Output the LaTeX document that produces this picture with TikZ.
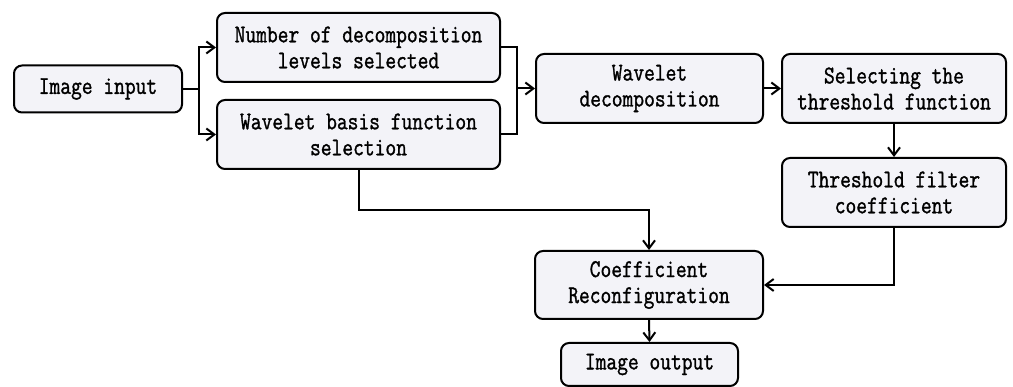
\documentclass[tikz,border=0pt]{standalone}
\usepackage{fontspec}
\usetikzlibrary{arrows.meta}
\newfontfamily\dfont{Latin Modern Mono}[FakeStretch=0.82,FakeBold=1.2]
\definecolor{boxfill}{RGB}{243,243,248}
\tikzset{
  box/.style={draw, line width=2pt, rounded corners=8pt, fill=boxfill,
    align=center, inner sep=0pt,
    font=\dfont\fontsize{25.5}{26}\selectfont},
  conn/.style={line width=2pt},
  arr/.style={conn, -{Straight Barb[length=8pt,width=12pt,line width=2pt]}}
}
\begin{document}
\begin{tikzpicture}[x=1pt,y=-1pt]
\useasboundingbox (0,0) rectangle (1013,387);
\node[box, minimum width=168pt, minimum height=47pt] (in) at (98,89) {Image input};
\node[box, minimum width=283pt, minimum height=69pt] (num) at (358.5,47.5) {Number of decomposition\\levels selected};
\node[box, minimum width=283pt, minimum height=69pt] (basis) at (358.5,134.5) {Wavelet basis function\\selection};
\node[box, minimum width=227pt, minimum height=69pt] (dec) at (649.5,88.5) {Wavelet\\decomposition};
\node[box, minimum width=224pt, minimum height=69pt] (sel) at (894,88.5) {Selecting the\\threshold function};
\node[box, minimum width=224pt, minimum height=69pt] (thr) at (894,192.5) {Threshold filter\\coefficient};
\node[box, minimum width=228pt, minimum height=68pt] (rec) at (649,285) {Coefficient\\Reconfiguration};
\node[box, minimum width=177pt, minimum height=43pt] (out) at (649.5,364.5) {Image output};
\coordinate (split) at (199,89);
\coordinate (merge) at (517,88.5);
\draw[conn] (in.east) -- (split);
\draw[arr] (split) |- (num.west);
\draw[arr] (split) |- (basis.west);
\draw[conn] (num.east) -| (merge);
\draw[conn] (basis.east) -| (merge);
\draw[arr] (merge) -- (dec.west);
\draw[arr] (dec.east) -- (sel.west);
\draw[arr] (sel.south) -- (thr.north);
\draw[arr] (thr.south) |- (rec.east);
\draw[arr] (basis.south) -- ++(0,40) -| (rec.north);
\draw[arr] (rec.south) -- (out.north);
\end{tikzpicture}
\end{document}
